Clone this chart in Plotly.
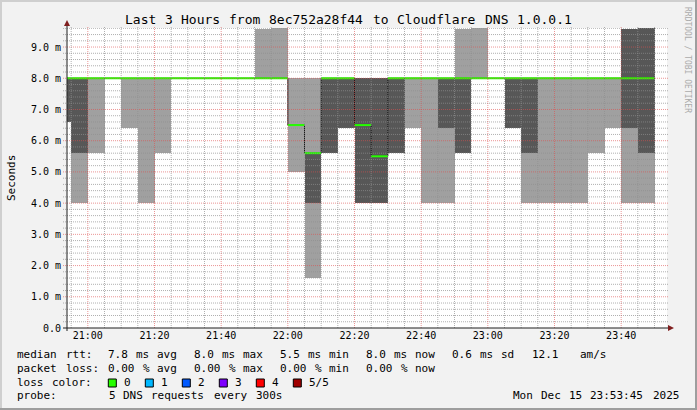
import plotly.graph_objects as go
from datetime import datetime, timedelta

# ---------------- data ----------------
DAY = "2025-12-15"
title_text = "Last 3 Hours from 8ec752a28f44 to Cloudflare DNS 1.0.0.1"
x_range = ["2025-12-15 20:53:45", "2025-12-15 23:53:45"]
y_range = [0, 9.61]
step_minutes = 5

slot_start = ["20:50", "20:55", "21:00", "21:05", "21:10", "21:15", "21:20", "21:25",
              "21:30", "21:35", "21:40", "21:45", "21:50", "21:55", "22:00", "22:05",
              "22:10", "22:15", "22:20", "22:25", "22:30", "22:35", "22:40", "22:45",
              "22:50", "22:55", "23:00", "23:05", "23:10", "23:15", "23:20", "23:25",
              "23:30", "23:35", "23:40", "23:45"]
# sorted ping values per 5-minute slot (ms)
ping_min = [6.6, 4.0, 5.6, 8.0, 6.4, 4.0, 5.6, 8.0,
            8.0, 8.0, 8.0, 8.0, 8.0, 8.0, 5.0, 1.6,
            5.6, 6.4, 4.0, 4.0, 5.6, 6.4, 4.0, 4.0,
            5.6, 8.0, 8.0, 6.4, 4.0, 4.0, 4.0, 4.0,
            5.6, 6.4, 4.0, 4.0]
ping_lo = [6.6, 5.6, 8.0, 8.0, 8.0, 8.0, 8.0, 8.0,
           8.0, 8.0, 8.0, 8.0, 8.0, 8.0, 6.5, 4.0,
           5.6, 6.4, 4.0, 4.0, 5.6, 8.0, 8.0, 6.4,
           5.6, 8.0, 8.0, 6.4, 5.6, 8.0, 8.0, 8.0,
           8.0, 8.0, 6.4, 5.6]
ping_median = [8.0, 8.0, 8.0, 8.0, 8.0, 8.0, 8.0, 8.0,
               8.0, 8.0, 8.0, 8.0, 8.0, 8.0, 6.5, 5.6,
               8.0, 8.0, 6.5, 5.5, 8.0, 8.0, 8.0, 8.0,
               8.0, 8.0, 8.0, 8.0, 8.0, 8.0, 8.0, 8.0,
               8.0, 8.0, 8.0, 8.0]
ping_hi = [8.0, 8.0, 8.0, 8.0, 8.0, 8.0, 8.0, 8.0,
           8.0, 8.0, 8.0, 8.0, 8.0, 8.0, 6.5, 5.6,
           8.0, 8.0, 8.0, 8.0, 8.0, 8.0, 8.0, 8.0,
           8.0, 8.0, 8.0, 8.0, 8.0, 8.0, 8.0, 8.0,
           8.0, 8.0, 9.58, 9.7]
ping_max = [8.0, 8.0, 8.0, 8.0, 8.0, 8.0, 8.0, 8.0,
            8.0, 8.0, 8.0, 8.0, 9.58, 9.7, 8.0, 8.0,
            8.0, 8.0, 8.0, 8.0, 8.0, 8.0, 8.0, 8.0,
            9.58, 9.7, 8.0, 8.0, 8.0, 8.0, 8.0, 8.0,
            8.0, 8.0, 9.58, 9.7]

y_tick_vals = [0, 1, 2, 3, 4, 5, 6, 7, 8, 9]
y_tick_text = ["0.0", "1.0 m", "2.0 m", "3.0 m", "4.0 m", "5.0 m", "6.0 m", "7.0 m", "8.0 m", "9.0 m"]
x_tick_text = ["21:00", "21:20", "21:40", "22:00", "22:20", "22:40", "23:00", "23:20", "23:40"]

y_axis_title = "Seconds"
row1_label = "median rtt:"
row1_items = ["7.8 ms avg", "8.0 ms max", "5.5 ms min", "8.0 ms now", "0.6 ms sd", "12.1", "am/s"]
row2_label = "packet loss:"
row2_items = ["0.00 % avg", "0.00 % max", "0.00 % min", "0.00 % now"]
row3_label = "loss color:"
loss_labels = ["0", "1", "2", "3", "4", "5/5"]
loss_colors = ["#26ff00", "#00b8ff", "#0059ff", "#7e00ff", "#ff0000", "#a00000"]
row4_label = "probe:"
row4_items = ["5 DNS requests every 300s"]
stamp_text = "Mon Dec 15 23:53:45 2025"
watermark = "RRDTOOL / TOBI OETIKER"

# ---------------- styling / geometry ----------------
W, H = 697, 410
L, R, T, B = 67, 30, 28, 82
PW, PH = W - L - R, H - T - B
MONO = "DejaVu Sans Mono"
LIGHT = "#a0a0a0"
DARK = "#575757"
GRID = "rgba(143,143,143,0.7)"
MGRID = "rgba(222,79,79,0.6)"


def px(xp):
    return (xp - L) / PW


def py(yp):
    return (T + PH - yp) / PH


def stamp(s):
    return datetime.strptime(f"{DAY} {s}", "%Y-%m-%d %H:%M")


starts = [stamp(s) for s in slot_start]
step = timedelta(minutes=step_minutes)
step_ms = step.total_seconds() * 1000

fig = go.Figure()
fig.add_trace(go.Bar(x=starts, y=[a - b for a, b in zip(ping_max, ping_min)], base=ping_min,
                     width=step_ms, offset=0, marker=dict(color=LIGHT, line=dict(width=0)),
                     hoverinfo="skip", showlegend=False))
fig.add_trace(go.Bar(x=starts, y=[a - b for a, b in zip(ping_hi, ping_lo)], base=ping_lo,
                     width=step_ms, offset=0, marker=dict(color=DARK, line=dict(width=0)),
                     hoverinfo="skip", showlegend=False))

# median: thin dark step line then coloured segments
fig.add_trace(go.Scatter(x=starts + [starts[-1] + step], y=ping_median + [ping_median[-1]],
                         mode="lines", line=dict(shape="hv", color="#1a1a1a", width=1),
                         hoverinfo="skip", showlegend=False))
gx, gy = [], []
for s, m in zip(starts, ping_median):
    gx += [s, s + step, None]
    gy += [m, m, None]
fig.add_trace(go.Scatter(x=gx, y=gy, mode="lines", line=dict(color=loss_colors[0], width=2),
                         hoverinfo="skip", showlegend=False))

shapes = []
# horizontal grid
for k in range(1, 49):
    v = round(k * 0.2, 1)
    major = (k % 5 == 0)
    shapes.append(dict(type="line", xref="paper", yref="y", x0=px(L - 4), x1=px(L + PW + 2),
                       y0=v, y1=v, layer="above",
                       line=dict(color=MGRID if major else GRID, width=1, dash="1px,1px")))
# vertical grid
t = stamp("20:55")
end = stamp("23:50")
while t <= end:
    major = (t.minute % 20 == 0)
    shapes.append(dict(type="line", xref="x", yref="paper", x0=t, x1=t, y0=0, y1=py(T - 2),
                       layer="above",
                       line=dict(color=MGRID if major else GRID, width=1, dash="1px,1px")))
    t += step
# axes
shapes.append(dict(type="line", xref="paper", yref="paper", x0=px(L - 4), x1=px(L + PW + 2),
                   y0=0, y1=0, layer="above", line=dict(color="#1f1f1f", width=1)))
shapes.append(dict(type="line", xref="paper", yref="paper", x0=0, x1=0,
                   y0=py(T + PH + 3), y1=py(T - 5), layer="above", line=dict(color="#1f1f1f", width=1)))
shapes.append(dict(type="path", xref="paper", yref="paper", layer="above",
                   path=f"M {px(L+PW+1)},{py(T+PH-3)} L {px(L+PW+7)},{py(T+PH)} L {px(L+PW+1)},{py(T+PH+3)} Z",
                   fillcolor="#801f1f", line=dict(width=0)))
shapes.append(dict(type="path", xref="paper", yref="paper", layer="above",
                   path=f"M {px(L-3)},{py(T-2)} L {px(L)},{py(T-8)} L {px(L+3)},{py(T-2)} Z",
                   fillcolor="#801f1f", line=dict(width=0)))
# image frame
shapes += [
    dict(type="rect", xref="paper", yref="paper", x0=px(0), x1=px(W), y0=py(0), y1=py(2),
         fillcolor="#cfcfcf", line=dict(width=0), layer="above"),
    dict(type="rect", xref="paper", yref="paper", x0=px(0), x1=px(2), y0=py(0), y1=py(H),
         fillcolor="#cfcfcf", line=dict(width=0), layer="above"),
    dict(type="rect", xref="paper", yref="paper", x0=px(0), x1=px(W), y0=py(H - 2), y1=py(H),
         fillcolor="#9e9e9e", line=dict(width=0), layer="above"),
    dict(type="rect", xref="paper", yref="paper", x0=px(W - 2), x1=px(W), y0=py(0), y1=py(H),
         fillcolor="#9e9e9e", line=dict(width=0), layer="above"),
]

annotations = []


def ann(text, x, y, size, xanchor="left", color="#000000", angle=0):
    annotations.append(dict(text=text, xref="paper", yref="paper", x=px(x), y=py(y),
                            xanchor=xanchor, yanchor="middle", showarrow=False, borderpad=0,
                            textangle=angle, font=dict(family=MONO, size=size, color=color)))


def words(text, x0, y, size, pitch):
    col = 0
    for part in text.split(" "):
        if part:
            ann(part, x0 + col * pitch - 0.6, y, size)
        col += len(part) + 1


words(title_text, 124.4, 19.5, 13, 8.0)
ann(y_axis_title, 11, 178, 11, xanchor="center", angle=-90)
ann(watermark, 688, 60, 8, xanchor="center", color="#ababab", angle=90)

rows_y = [354.3, 368.0, 382.0, 395.6]
words(row1_label, 16.4, rows_y[0], 11, 7.0)
for txt, x0 in zip(row1_items, [107.6, 193.3, 279.1, 365.3, 451.1, 531.6, 579.1]):
    words(txt, x0, rows_y[0], 11, 7.0)
words(row2_label, 16.4, rows_y[1], 11, 7.0)
for txt, x0 in zip(row2_items, [107.6, 193.3, 279.1, 365.3]):
    words(txt, x0, rows_y[1], 11, 7.0)
words(row3_label, 16.4, rows_y[2], 11, 7.0)
for i, (lab, col) in enumerate(zip(loss_labels, loss_colors)):
    sx = 108.3 + i * 37.0
    shapes.append(dict(type="rect", xref="paper", yref="paper", x0=px(sx), x1=px(sx + 8),
                       y0=py(387), y1=py(379), fillcolor=col, line=dict(color="#000000", width=1),
                       layer="above"))
    words(lab, sx + 15.3, rows_y[2], 11, 7.0)
words(row4_label, 16.4, rows_y[3], 11, 7.0)
words(row4_items[0], 108.3, rows_y[3], 11, 7.0)
words(stamp_text, 512.4, rows_y[3], 11, 7.0)

fig.update_layout(
    width=W, height=H, autosize=False,
    margin=dict(l=L, r=R, t=T, b=B, pad=0),
    paper_bgcolor="#f2f2f2", plot_bgcolor="#ffffff",
    barmode="overlay", bargap=0, showlegend=False,
    shapes=shapes, annotations=annotations,
    xaxis=dict(type="date", range=x_range, showgrid=False, zeroline=False, showline=False,
               tickvals=[stamp(s) for s in x_tick_text], ticktext=x_tick_text, ticks="",
               tickfont=dict(family=MONO, size=10, color="#000000"), fixedrange=True),
    yaxis=dict(range=y_range, showgrid=False, zeroline=False, showline=False,
               tickvals=y_tick_vals, ticktext=y_tick_text, ticks="", ticklabelstandoff=5,
               tickfont=dict(family=MONO, size=10, color="#000000"), fixedrange=True),
)

fig.write_html("out.html", config={"displayModeBar": False},
               post_script="document.body.style.margin='0';document.body.style.overflow='hidden';")
